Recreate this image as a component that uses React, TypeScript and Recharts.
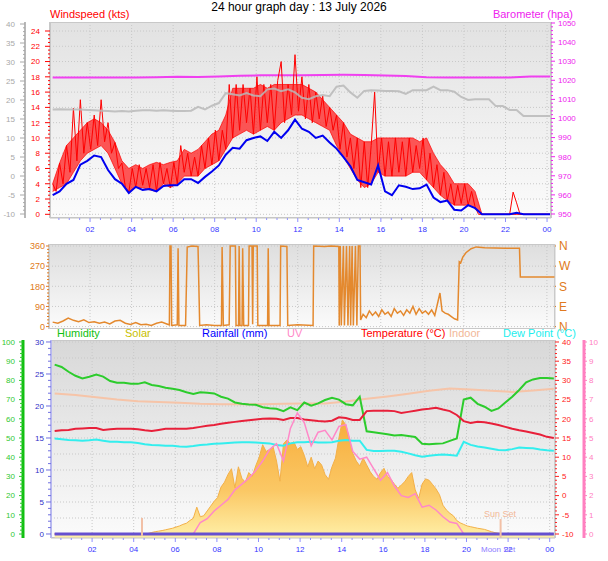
import React from "react";
import {
  Area,
  CartesianGrid,
  ComposedChart,
  Line,
  XAxis,
  YAxis,
  ReferenceLine,
} from "recharts";

const FONT = "'Liberation Sans', Arial, sans-serif";

// samples start at 00:12 and are spaced 10, 20 or 60 minutes apart
const T0 = 0.2;
const STEP10 = 1 / 6;
const STEP20 = 1 / 3;
const STEP60 = 1;

// --- wind panel ---
const gustKts = [
  4, 3, 6.7, 4, 9, 5.5, 13.9, 7, 15, 8, 12, 8.5, 13, 9, 15, 9.5, 12, 8, 9.4, 6,
  6.7, 3.5, 2.9, 6, 3.5, 6.5, 3.8, 6, 3.5, 6.5, 3, 6.8, 4, 6, 3.5, 6.8, 4, 9, 5.5, 8,
  5, 7.5, 5, 9, 6, 10, 6.5, 11, 7, 11, 8.5, 17, 10, 17, 11, 17, 12, 16.5, 10.5, 18,
  11, 17, 12, 17, 11, 17.5, 20, 12, 17, 13, 20.9, 13.5, 18, 12.5, 17, 12, 16, 12.5, 15.5, 11.5,
  14, 11, 13, 8.5, 12, 7.5, 10, 6, 10, 3.5, 9.5, 3.5, 9, 16, 5.5, 10, 5, 9.5, 5, 10,
  5.5, 9.5, 5, 10, 5.5, 9, 6, 10, 4.5, 8, 3.5, 6.5, 2.5, 5.5, 1.8, 4, 1.2, 3.8, 1.4, 4,
  1.2, 3, 1, 0, 0, 0, 0, 0, 0, 0, 0, 0, 0, 2.9, 1.5, 0, 0, 0, 0, 0,
  0, 0, 0, 0, 0,
];
// range of the gusts inside each 20 minutes
const gustHi = [
  4, 6.7, 9, 10, 11, 12, 12.5, 12, 11, 9.4, 7, 6, 6.5, 6, 6.5, 6.8, 6.5, 6.8, 7, 8.5,
  8, 8.5, 9.5, 10.5, 11, 13, 16.5, 16.5, 16.5, 16.5, 17, 16.5, 17, 17, 17, 17, 17, 16.5, 16, 15,
  14, 13, 12, 10.5, 10, 9.5, 9.5, 10, 10, 10, 10, 10, 10, 9.5, 10, 8, 6.5, 5.5, 4, 4,
  4, 3, 0, 0, 0, 0, 0, 0, 0, 0, 0, 0, 0,
];
const gustLo = [
  3, 3.5, 4, 5.5, 7, 8, 8.5, 9, 8, 6, 4, 3, 3.5, 3.5, 3.2, 3, 4, 3.5, 4, 5,
  5, 5, 6, 6.5, 7, 8.5, 10, 10.5, 11, 10.5, 11, 11.5, 11, 12, 12.5, 13, 13, 12.5, 12, 11.5,
  11, 9, 7.5, 6, 4.5, 3.5, 4, 5.5, 5, 5, 5, 5, 5.5, 5.5, 4.5, 3.5, 2.5, 1.8, 1.2, 1.2,
  1.2, 0.8, 0, 0, 0, 0, 0, 0, 0, 0, 0, 0, 0,
];
const avgKts = [
  2.5, 3.0, 4.0, 4.5, 6.5, 7.0, 7.7, 7.5, 5.8, 4.6, 4.0, 2.8, 3.6, 3.2, 3.3, 3.0, 3.7, 3.8, 3.8, 4.6,
  4.6, 4.1, 4.9, 5.6, 6.4, 7.8, 8.7, 8.6, 9.7, 10.0, 10.2, 9.6, 10.8, 10.0, 11.0, 12.4, 11.2, 10.8, 10.0, 10.3,
  9.4, 8.6, 7.5, 6.3, 4.5, 4.2, 3.9, 6.4, 3.0, 2.5, 3.8, 3.6, 3.3, 3.4, 3.9, 2.2, 1.6, 1.8, 0.6, 0.5,
  1.2, 0.8, 0, 0, 0, 0, 0, 0.2, 0, 0, 0, 0, 0,
];
const apparentC = [
  17.5, 17.6, 17.5, 17.5, 17.5, 17.4, 17.3, 17.2, 17.1, 17.0, 17.1, 17.0, 17.2, 17.3, 17.3, 17.2, 17.3, 17.2, 17.1, 17.1,
  17.2, 18.2, 17.5, 18.5, 19.2, 21.8, 21.5, 21.2, 21.8, 21.2, 21.0, 22.8, 23.0, 22.3, 22.8, 22.0, 20.6, 20.2, 21.0, 21.3,
  21.0, 23.5, 23.8, 22.0, 20.6, 22.4, 22.6, 22.5, 22.4, 22.4, 22.3, 21.6, 22.6, 22.6, 22.6, 23.5, 22.6, 22.6, 22.2, 20.8,
  20.0, 20.2, 20.2, 20.2, 18.4, 18.4, 17.4, 17.4, 15.8, 15.8, 15.8, 15.8, 15.8,
];
const baroHpa = [
  1021.5, 1021.5, 1021.5, 1021.5, 1021.5, 1021.6, 1021.9, 1021.7, 1022.0, 1022.4, 1022.6, 1022.6, 1022.7,
  1022.8, 1022.9, 1022.8, 1022.5, 1022.3, 1021.6, 1021.5, 1021.4, 1021.4, 1021.4, 1022.0, 1022.0,
];

// --- wind direction panel ---
const dirHour = [
  0.2, 0.45, 0.7, 0.95, 1.2, 1.45, 1.7, 1.95, 2.2, 2.45, 2.7, 2.95, 3.2, 3.45, 3.7, 3.95, 4.2, 4.45, 4.7, 4.95,
  5.2, 5.45, 5.7, 5.82, 5.85, 5.9, 5.93, 6.2, 6.24, 6.28, 6.6, 6.68, 6.9, 7.2, 7.28, 7.6, 8.0, 8.33, 8.36, 8.42,
  8.7, 8.75, 9.0, 9.03, 9.15, 9.18, 9.22, 9.32, 9.35, 9.4, 9.63, 9.66, 9.8, 9.83, 9.86, 10.05, 10.08, 10.55, 10.58, 10.62,
  11.15, 11.18, 11.48, 11.52, 12.0, 12.74, 12.77, 13.3, 13.6, 13.98, 14.0, 14.05, 14.1, 14.2, 14.25, 14.35, 14.42, 14.5, 14.55, 14.62,
  14.68, 14.78, 14.85, 14.92, 15.0, 15.03, 15.15, 15.3, 15.45, 15.6, 15.75, 15.9, 16.05, 16.2, 16.35, 16.5, 16.65, 16.8, 16.95, 17.1,
  17.25, 17.4, 17.55, 17.7, 17.85, 18.0, 18.15, 18.3, 18.45, 18.6, 18.75, 18.85, 18.95, 19.1, 19.25, 19.4, 19.55, 19.7, 19.78, 19.85,
  19.95, 20.1, 20.35, 20.6, 21.0, 22.0, 22.68, 22.72, 24.4,
];
const dirDeg = [
  20, 15, 25, 38, 28, 22, 30, 18, 22, 15, 20, 12, 25, 28, 15, 10, 18, 8, 10, 5,
  15, 20, 12, 8, 360, 360, 5, 8, 350, 5, 5, 355, 360, 358, 5, 8, 5, 5, 355, 5,
  8, 360, 360, 5, 5, 360, 5, 5, 350, 5, 5, 360, 360, 10, 360, 360, 5, 5, 350, 5,
  5, 360, 358, 5, 8, 5, 360, 358, 360, 358, 5, 360, 5, 360, 5, 360, 5, 360, 5, 360,
  5, 360, 5, 360, 360, 30, 55, 40, 70, 50, 65, 45, 75, 55, 65, 45, 80, 60, 70, 50,
  75, 60, 90, 55, 80, 60, 70, 55, 75, 50, 110, 150, 70, 60, 55, 45, 35, 30, 290, 285,
  310, 330, 348, 356, 352, 350, 350, 222, 222,
];

// --- climate panel ---
const humidityPct = [
  88.2, 87.0, 84.5, 82.4, 81.0, 81.9, 83.0, 82.0, 79.7, 78.8, 78.8, 78.2, 78.2, 79.0, 77.6, 77.1, 76.2, 75.6, 75.0, 73.8,
  72.9, 73.8, 73.6, 73.2, 71.5, 70.5, 68.5, 67.8, 67.4, 67.3, 66.0, 65.5, 65.2, 64.0, 66.0, 64.5, 68.5, 66.8, 68.0, 69.8,
  71.0, 70.0, 67.6, 67.0, 71.5, 53.5, 53.0, 52.5, 52.0, 51.3, 51.5, 51.0, 50.5, 47.0, 46.8, 47.0, 47.2, 48.5, 49.8, 70.0,
  71.0, 67.8, 66.3, 64.1, 65.4, 68.5, 71.5, 75.0, 79.0, 80.5, 81.3, 81.2, 81.0,
];
const tempC = [
  16.8, 17.0, 17.1, 17.4, 17.5, 17.6, 17.6, 17.1, 17.3, 17.4, 17.4, 17.4, 17.3, 17.0, 16.8, 17.1, 17.4, 17.4, 17.4, 17.4,
  17.6, 17.9, 18.2, 18.4, 18.7, 19.0, 19.2, 19.4, 19.6, 19.8, 20.0, 20.1, 20.0, 19.7, 20.2, 20.2, 19.8, 19.6, 19.4, 19.3,
  19.5, 20.4, 20.2, 19.7, 19.7, 22.0, 22.1, 22.1, 22.1, 22.0, 21.5, 21.8, 22.1, 22.4, 22.6, 22.9, 22.4, 22.0, 21.0, 19.4,
  18.9, 19.2, 19.1, 18.8, 18.4, 17.9, 17.4, 17.0, 16.7, 16.3, 15.9, 15.3, 15.0,
];
const dewC = [
  14.9, 14.7, 14.5, 14.4, 14.3, 14.4, 14.6, 14.3, 14.0, 14.0, 13.9, 13.9, 13.7, 13.4, 13.2, 13.1, 13.0, 13.0, 12.8, 12.7,
  12.9, 13.2, 13.3, 13.5, 13.6, 13.7, 13.8, 13.9, 13.9, 13.8, 13.7, 13.6, 13.2, 13.0, 13.6, 13.9, 13.9, 14.0, 13.8, 13.8,
  13.9, 14.3, 14.5, 14.3, 14.3, 11.9, 11.6, 11.6, 11.7, 11.7, 11.4, 11.0, 10.5, 10.1, 10.4, 10.6, 10.7, 10.6, 10.4, 14.0,
  13.2, 12.8, 12.5, 12.2, 11.9, 11.8, 12.1, 12.5, 12.4, 12.3, 12.0, 11.8, 11.7,
];
const indoorC = [
  26.6, 26.2, 25.6, 25.0, 24.6, 24.4, 24.2, 23.9, 23.8, 23.8, 23.8, 23.9, 24.0,
  24.0, 24.5, 25.2, 25.8, 26.5, 27.3, 27.9, 27.6, 27.3, 27.0, 27.4, 27.8,
];
const uvIndex = [
  0, 0, 0, 0, 0, 0, 0, 0, 0, 0, 0, 0, 0, 0, 0, 0, 0, 0, 0, 0,
  0, 0.6, 0.8, 1.2, 1.5, 1.8, 2.3, 2.6, 2.9, 3.3, 3.8, 4.4, 4.7, 3.8, 5.5, 6.3, 5.8, 4.6, 5.3, 5.4,
  4.9, 5.6, 5.7, 4.3, 3.9, 4.0, 3.4, 2.8, 3.2, 2.5, 2.0, 1.9, 2.1, 1.4, 1.5, 1.25, 0.9, 0.62, 0.55, 0,
  0, 0, 0, 0, 0, 0, 0, 0, 0, 0, 0, 0, 0,
];
const solarWm2 = [
  0, 0, 0, 0, 0, 0, 0, 0, 0, 0, 0, 0, 0, 0, 0, 0, 0, 0, 0, 0,
  0, 0, 0, 0, 0, 0, 0, 3, 8, 12, 15, 18, 22, 26, 30, 36, 42, 50, 56, 70,
  82, 140, 90, 95, 120, 145, 170, 190, 245, 270, 310, 340, 240, 350, 290, 270, 320, 300, 355, 400,
  465, 430, 440, 455, 380, 275, 470, 490, 470, 480, 440, 455, 410, 350, 400, 340, 380, 360, 310, 285,
  350, 395, 500, 594, 568, 495, 420, 380, 355, 395, 360, 325, 300, 285, 320, 342, 300, 285, 260, 238,
  255, 273, 300, 320, 230, 186, 260, 287, 280, 258, 235, 205, 150, 125, 108, 95, 70, 58, 50, 42,
  38, 34, 30, 27, 24, 18, 12, 7, 4, 0, 0, 0, 0, 0, 0, 0, 0, 0, 0, 0,
  0, 0, 0, 0, 0,
];
const rainMm = [0, 0, 0, 0, 0, 0, 0, 0, 0, 0, 0, 0, 0, 0, 0, 0, 0, 0, 0, 0, 0, 0, 0, 0, 0];

const sunRiseH = 4.4;
const sunSetH = 21.64;

const rows = (vals: number[], step: number) => vals.map((v, i) => ({ h: T0 + i * step, v }));
const dirRows = dirHour.map((h, i) => ({ h, v: dirDeg[i] }));
const gustBand = gustHi.map((hi, i) => ({ h: T0 + i * STEP20, lo: gustLo[i], hi }));

const steps = (a: number, b: number, s: number) => {
  const out: number[] = [];
  for (let i = 0; a + i * s <= b + 1e-9; i++) out.push(Math.round((a + i * s) * 1000) / 1000);
  return out;
};
const on = (v: number, m: number) => Math.abs(v / m - Math.round(v / m)) < 1e-6;
const hourFmt = (v: number) => (v % 24 === 0 ? "00" : String(v).padStart(2, "0"));

type TickCfg = {
  side: "left" | "right" | "bottom";
  color: string;
  line?: string;
  every: number;
  fmt?: (v: number) => string;
  size?: number;
  major?: number;
  minor?: number;
  gap?: number;
};

function tick(c: TickCfg) {
  return (p: any) => {
    const v = Number(p.payload.value);
    const big = on(v, c.every);
    const len = big ? c.major ?? 5 : c.minor ?? 3;
    const fs = c.size ?? 8;
    const gap = c.gap ?? 2;
    const stroke = c.line ?? c.color;
    const label = big ? (c.fmt ? c.fmt(v) : String(v)) : "";
    if (c.side === "bottom") {
      return (
        <g>
          <line x1={p.x} x2={p.x} y1={p.y} y2={p.y + len} stroke={stroke} />
          {label && (
            <text x={p.x} y={p.y + 14} textAnchor="middle" fontSize={fs} fill={c.color} fontFamily={FONT}>
              {label}
            </text>
          )}
        </g>
      );
    }
    const d = c.side === "left" ? -1 : 1;
    return (
      <g>
        <line x1={p.x} x2={p.x + d * len} y1={p.y} y2={p.y} stroke={stroke} />
        {label && (
          <text
            x={p.x + d * (len + gap)}
            y={p.y + fs * 0.36}
            textAnchor={d < 0 ? "end" : "start"}
            fontSize={fs}
            fill={c.color}
            fontFamily={FONT}
          >
            {label}
          </text>
        )}
      </g>
    );
  };
}

const axisBase = {
  type: "number" as const,
  allowDataOverflow: true,
  interval: 0 as const,
  tickLine: false,
  tickSize: 0,
  tickMargin: 0,
};

const hourTicks = steps(0.5, 24, 0.5);
const evenHours = steps(2, 24, 2);

// axis ids are named so that the axis next to the plot sorts first
function WindPanel() {
  return (
    <ComposedChart width={608} height={240} margin={{ top: 22, right: 0, bottom: 0, left: 0 }}>
      <CartesianGrid
        yAxisId="a_kts"
        horizontalValues={steps(0, 24, 2)}
        verticalValues={evenHours}
        stroke="#c8c8c8"
        strokeDasharray="1 2"
      />
      <XAxis
        {...axisBase}
        dataKey="h"
        domain={[0.072, 24.19]}
        ticks={hourTicks}
        height={22}
        axisLine={{ stroke: "#c4c4c4" }}
        tick={tick({ side: "bottom", color: "#3535ff", line: "#9090ff", every: 2, fmt: hourFmt, major: 4, minor: 2 })}
      />
      <YAxis
        {...axisBase}
        yAxisId="a_kts"
        width={25}
        domain={[-0.484, 25.18]}
        ticks={steps(0, 24, 0.5)}
        axisLine={{ stroke: "#c8c8c8", strokeWidth: 2 }}
        tick={tick({ side: "left", color: "#ff0000", every: 2, major: 5, minor: 2, gap: 5 })}
      />
      <YAxis
        {...axisBase}
        yAxisId="b_grey"
        width={25}
        domain={[-11.05, 40.53]}
        ticks={steps(-10, 40, 1)}
        axisLine={{ stroke: "#b8b8b8", strokeWidth: 2 }}
        tick={tick({ side: "left", color: "#a8a8a8", every: 5, major: 5, minor: 2, gap: 5 })}
      />
      <YAxis
        {...axisBase}
        yAxisId="c_baro"
        orientation="right"
        width={57}
        domain={[947.9, 1050.52]}
        ticks={steps(950, 1050, 2)}
        axisLine={{ stroke: "#c8c8c8", strokeWidth: 2 }}
        tick={tick({ side: "right", color: "#ee22ee", every: 10, major: 4, minor: 2, gap: 3 })}
      />
      <Line data={rows(baroHpa, STEP60)} dataKey="v" yAxisId="c_baro" stroke="#f040f0" strokeWidth={2} dot={false} isAnimationActive={false} />
      <Area
        data={gustBand}
        dataKey={(d: any) => [d.lo, d.hi]}
        yAxisId="a_kts"
        stroke="#ff0000"
        strokeOpacity={0.7}
        strokeWidth={1}
        fill="#ff2020"
        fillOpacity={0.75}
        dot={false}
        isAnimationActive={false}
      />
      <Line data={rows(gustKts, STEP10)} dataKey="v" yAxisId="a_kts" stroke="#ff0000" strokeWidth={1} dot={false} isAnimationActive={false} />
      <Line data={rows(apparentC, STEP20)} dataKey="v" yAxisId="b_grey" stroke="#b8b8b8" strokeWidth={2} strokeOpacity={0.85} dot={false} isAnimationActive={false} />
      <Line data={rows(avgKts, STEP20)} dataKey="v" yAxisId="a_kts" stroke="#0000f0" strokeWidth={2} dot={false} isAnimationActive={false} />
    </ComposedChart>
  );
}

const compass: Record<number, string> = { 0: "N", 90: "E", 180: "S", 270: "W", 360: "N" };

function DirectionPanel() {
  return (
    <ComposedChart width={608} height={100} margin={{ top: 8, right: 0, bottom: 7, left: 0 }}>
      <CartesianGrid
        yAxisId="a_deg"
        horizontalValues={[0, 90, 180, 270, 360]}
        verticalValues={evenHours}
        stroke="#c8c8c8"
        strokeDasharray="1 2"
      />
      <XAxis {...axisBase} dataKey="h" hide domain={[0.024, 24.39]} />
      <YAxis
        {...axisBase}
        yAxisId="a_deg"
        width={49}
        domain={[-10.7, 368.9]}
        ticks={steps(0, 360, 15)}
        axisLine={{ stroke: "#cccccc", strokeWidth: 2 }}
        tick={tick({ side: "left", color: "#e07a20", every: 90, major: 3, minor: 2, gap: 1, size: 9 })}
      />
      <YAxis
        {...axisBase}
        yAxisId="b_compass"
        orientation="right"
        width={53}
        domain={[-10.7, 368.9]}
        ticks={[0, 90, 180, 270, 360]}
        axisLine={{ stroke: "#cccccc", strokeWidth: 1 }}
        tick={tick({ side: "right", color: "#e07a20", every: 90, fmt: (v) => compass[v], major: 1, gap: 3, size: 12 })}
      />
      <Line data={dirRows} dataKey="v" yAxisId="a_deg" stroke="#e4892e" strokeWidth={1.5} dot={false} isAnimationActive={false} />
    </ComposedChart>
  );
}

function ClimatePanel() {
  return (
    <ComposedChart width={608} height={231} margin={{ top: 10, right: 0, bottom: 0, left: 0 }}>
      <defs>
        <linearGradient id="solarFill" x1="0" y1="0" x2="0" y2="1">
          <stop offset="0%" stopColor="#f7ad3c" />
          <stop offset="60%" stopColor="#fbc865" />
          <stop offset="100%" stopColor="#fff0a8" />
        </linearGradient>
      </defs>
      <CartesianGrid
        yAxisId="a_rain"
        horizontalValues={steps(0, 30, 2.5)}
        verticalValues={evenHours}
        stroke="#c8c8c8"
        strokeDasharray="1 2"
      />
      <XAxis
        {...axisBase}
        dataKey="h"
        domain={[0.024, 24.255]}
        ticks={hourTicks}
        height={23}
        axisLine={{ stroke: "#c4c4c4" }}
        tick={tick({ side: "bottom", color: "#3535ff", line: "#9090ff", every: 2, fmt: hourFmt, major: 4, minor: 2 })}
      />
      <YAxis
        {...axisBase}
        yAxisId="a_rain"
        width={28}
        domain={[-0.625, 30.31]}
        ticks={steps(0, 30, 1)}
        axisLine={{ stroke: "#b8b8f0", strokeWidth: 2 }}
        tick={tick({ side: "left", color: "#3030c8", line: "#7070e0", every: 5, major: 5, minor: 3, gap: 2 })}
      />
      <YAxis
        {...axisBase}
        yAxisId="b_hum"
        width={23}
        domain={[-2.083, 101.04]}
        ticks={steps(0, 100, 2)}
        axisLine={{ stroke: "#10c010", strokeWidth: 3 }}
        tick={tick({ side: "left", color: "#30c830", every: 10, major: 4, minor: 3, gap: 4 })}
      />
      <YAxis
        {...axisBase}
        yAxisId="a_temp"
        orientation="right"
        width={29}
        domain={[-11.04, 40.52]}
        ticks={steps(-10, 40, 1)}
        axisLine={{ stroke: "#cccccc", strokeWidth: 2 }}
        tick={tick({ side: "right", color: "#ff2020", every: 5, major: 4, minor: 2, gap: 3 })}
      />
      <YAxis
        {...axisBase}
        yAxisId="b_uv"
        orientation="right"
        width={24}
        domain={[-0.208, 10.104]}
        ticks={steps(0, 10, 0.2)}
        axisLine={{ stroke: "#ff80c0", strokeWidth: 3 }}
        tick={tick({ side: "right", color: "#ff80c0", every: 1, major: 3, minor: 2, gap: 2 })}
      />
      <YAxis {...axisBase} yAxisId="z_solar" hide domain={[-20.8, 1010.4]} />
      <Area
        data={rows(solarWm2, STEP10)}
        dataKey="v"
        yAxisId="z_solar"
        baseValue={-20.8}
        stroke="#f3b048"
        strokeWidth={1}
        fill="url(#solarFill)"
        fillOpacity={1}
        dot={false}
        isAnimationActive={false}
      />
      <Line data={rows(indoorC, STEP60)} dataKey="v" yAxisId="a_temp" stroke="#f6c4a8" strokeWidth={2} dot={false} isAnimationActive={false} />
      <Line data={rows(humidityPct, STEP20)} dataKey="v" yAxisId="b_hum" stroke="#2ccc2c" strokeWidth={2} dot={false} isAnimationActive={false} />
      <Line data={rows(tempC, STEP20)} dataKey="v" yAxisId="a_temp" stroke="#e8203a" strokeWidth={2} dot={false} isAnimationActive={false} />
      <Line data={rows(dewC, STEP20)} dataKey="v" yAxisId="a_temp" stroke="#33eeee" strokeWidth={2} dot={false} isAnimationActive={false} />
      <Line data={rows(uvIndex, STEP20)} dataKey="v" yAxisId="b_uv" stroke="#ff88c8" strokeWidth={1.5} dot={false} isAnimationActive={false} />
      <Line data={rows(rainMm, STEP60)} dataKey="v" yAxisId="a_rain" stroke="#6650d0" strokeWidth={3} dot={false} isAnimationActive={false} />
      <ReferenceLine yAxisId="a_temp" segment={[{ x: sunRiseH, y: -10.5 }, { x: sunRiseH, y: -5.8 }]} stroke="#f2c0a6" strokeWidth={2} />
      <ReferenceLine yAxisId="a_temp" segment={[{ x: sunSetH, y: -11 }, { x: sunSetH, y: -6.1 }]} stroke="#f2c0a6" strokeWidth={2} />
    </ComposedChart>
  );
}

const panelBg = (left: number, top: number, width: number, height: number, from: string): React.CSSProperties => ({
  position: "absolute",
  left,
  top,
  width,
  height,
  boxSizing: "border-box",
  border: "1px solid #c8c8c8",
  background: `linear-gradient(${from}, #fbfbfb)`,
});

export default function App() {
  const txt = { fontFamily: FONT };
  return (
    <div style={{ position: "absolute", left: 0, top: 0, width: 608, height: 561, background: "#fff", overflow: "hidden" }}>
      <div style={panelBg(50, 22, 501, 196, "#e2e2e2")} />
      <div style={panelBg(49, 244, 506, 85, "#dedede")} />
      <div style={panelBg(51, 340, 504, 198, "#d8d8d8")} />
      <div style={{ position: "absolute", left: 0, top: 0 }}>
        <WindPanel />
      </div>
      <div style={{ position: "absolute", left: 0, top: 236 }}>
        <DirectionPanel />
      </div>
      <div style={{ position: "absolute", left: 0, top: 330 }}>
        <ClimatePanel />
      </div>
      <svg width={608} height={561} style={{ position: "absolute", left: 0, top: 0, pointerEvents: "none" }}>
        <text x={299} y={11} textAnchor="middle" fontSize={12} fill="#000" {...txt}>24 hour graph day : 13 July 2026</text>
        <text x={50} y={17.5} fontSize={11} fill="#ff0000" {...txt}>Windspeed (kts)</text>
        <text x={573} y={17.5} textAnchor="end" fontSize={11} fill="#ee22ee" {...txt}>Barometer (hpa)</text>
        <text x={57} y={337} fontSize={11} fill="#10c010" {...txt}>Humidity</text>
        <text x={125} y={337} fontSize={11} fill="#c8c000" {...txt}>Solar</text>
        <text x={202} y={337} fontSize={11} fill="#0000ff" {...txt}>Rainfall (mm)</text>
        <text x={287} y={337} fontSize={11} fill="#ff88c8" {...txt}>UV</text>
        <text x={361} y={337} fontSize={11} fill="#ff0000" {...txt}>Temperature (°C)</text>
        <text x={449} y={337} fontSize={11} fill="#f2b898" {...txt}>Indoor</text>
        <text x={503} y={337} fontSize={11} fill="#22eeee" {...txt}>Dew Point (°C)</text>
        <text x={500} y={517} textAnchor="middle" fontSize={9} fill="#f2b898" {...txt}>Sun Set</text>
        <text x={481} y={552} fontSize={8} fill="#8c7cff" {...txt}>Moon Set</text>
      </svg>
    </div>
  );
}
